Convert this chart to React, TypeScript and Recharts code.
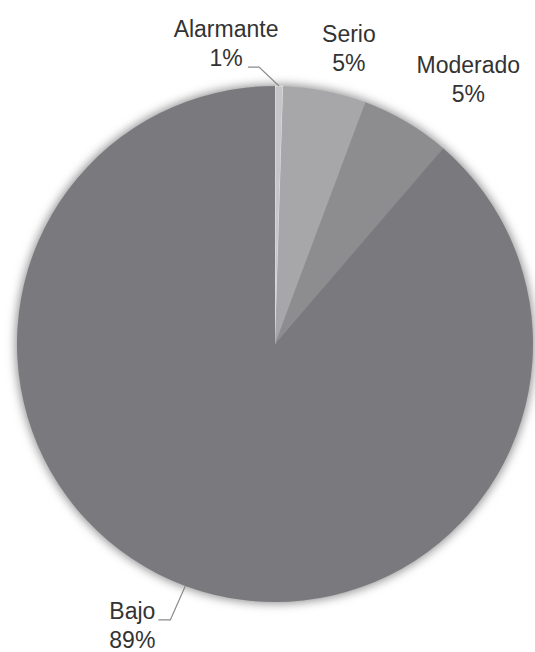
import { PieChart, Pie, Cell } from 'recharts';

// slices, clockwise from 12 o'clock
const categories = ['Alarmante', 'Serio', 'Moderado', 'Bajo'];
const shares = [0.5, 5.2, 5.6, 88.7];
const percentLabels = ['1%', '5%', '5%', '89%'];

const colors = ['#c6c6c8', '#a7a7a9', '#8d8d90', '#7a7a7e'];

// label placement relative to the slice's outer midpoint
const labelLayout = [
    { dx: -53, dy: -49, leader: true, elbowDx: -20, elbowDy: -19, tailDx: -31 },
    { dx: 24, dy: -49, leader: false, elbowDx: 0, elbowDy: 0, tailDx: 0 },
    { dx: 62, dy: -49, leader: false, elbowDx: 0, elbowDy: 0, tailDx: 0 },
    { dx: -53, dy: 33, leader: true, elbowDx: -15, elbowDy: 34, tailDx: -27 },
];

const data = categories.map((name, i) => ({
    name,
    value: shares[i],
    pct: percentLabels[i],
}));

const shadow = [{ name: 'shadow', value: 100 }];

const RADIAN = Math.PI / 180;

function renderLabel(props: any) {
    const { cx, cy, midAngle, outerRadius, index } = props;
    const x = cx + outerRadius * Math.cos(-midAngle * RADIAN);
    const y = cy + outerRadius * Math.sin(-midAngle * RADIAN);
    const lay = labelLayout[index];
    const tx = x + lay.dx;
    const ty = y + lay.dy;

    return (
        <g key={`lbl-${index}`}>
            {lay.leader && (
                <polyline
                    points={`${x},${y} ${x + lay.elbowDx},${y + lay.elbowDy} ${x + lay.tailDx},${y + lay.elbowDy}`}
                    fill="none"
                    stroke="#8a8a8a"
                    strokeWidth={1.2}
                />
            )}
            <text
                x={tx}
                y={ty}
                textAnchor="middle"
                fill="#333"
                fontSize={23}
                fontFamily="'Liberation Sans', Arial, sans-serif"
            >
                <tspan x={tx}>{categories[index]}</tspan>
                <tspan x={tx} dy={29}>{percentLabels[index]}</tspan>
            </text>
        </g>
    );
}

export default function App() {
    return (
        <div style={{ position: 'absolute', left: 0, top: 0, background: '#fff' }}>
            <style>{`.pie-shadow { filter: blur(3px); }`}</style>
            <PieChart width={535} height={652} margin={{ top: 0, right: 0, bottom: 0, left: 0 }}>
                {/* soft halo behind the pie */}
                <Pie
                    data={shadow}
                    dataKey="value"
                    className="pie-shadow"
                    cx={275}
                    cy={344}
                    outerRadius={260}
                    startAngle={90}
                    endAngle={-270}
                    fill="#9a9a9a"
                    stroke="none"
                    isAnimationActive={false}
                />
                <Pie
                    data={data}
                    dataKey="value"
                    nameKey="name"
                    cx={275}
                    cy={344}
                    outerRadius={258}
                    startAngle={90}
                    endAngle={-270}
                    stroke="none"
                    label={renderLabel}
                    labelLine={false}
                    isAnimationActive={false}
                >
                    {data.map((d, i) => (
                        <Cell
                            key={d.name}
                            fill={colors[i]}
                            stroke={i === 0 ? '#e6e6e6' : 'none'}
                            strokeWidth={i === 0 ? 1 : 0}
                        />
                    ))}
                </Pie>
            </PieChart>
        </div>
    );
}
